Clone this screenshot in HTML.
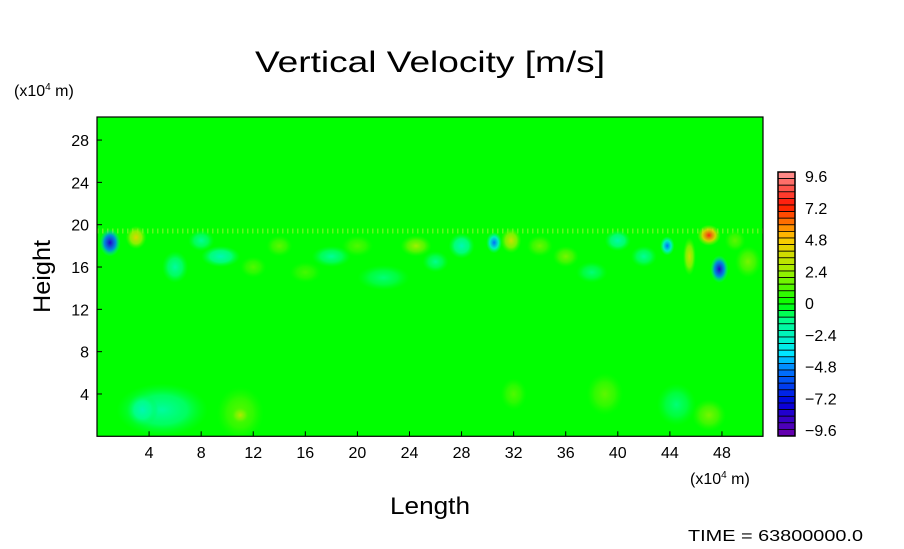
<!DOCTYPE html>
<html><head><meta charset="utf-8"><style>
body{margin:0;background:#fff;width:904px;height:544px;overflow:hidden}
svg{font-family:"Liberation Sans",sans-serif}
</style></head><body>
<svg id="chart" width="904" height="544">
<text x="255" y="72" font-size="30" textLength="350" lengthAdjust="spacingAndGlyphs">Vertical Velocity [m/s]</text>
<text x="14" y="96" font-size="16">(x10<tspan dy="-6" font-size="10">4</tspan><tspan dy="6"> m)</tspan></text>
<text x="690" y="484" font-size="16">(x10<tspan dy="-6" font-size="10">4</tspan><tspan dy="6"> m)</tspan></text>
<text x="390" y="514" font-size="24" textLength="80" lengthAdjust="spacingAndGlyphs">Length</text>
<text transform="translate(50,313) rotate(-90)" font-size="24" textLength="73" lengthAdjust="spacingAndGlyphs">Height</text>
<text x="688" y="541" font-size="16" textLength="175" lengthAdjust="spacingAndGlyphs">TIME = 63800000.0</text>
<defs id="defs"></defs>
<g id="plot"></g>
<g id="axes"></g>
<g id="cbar"></g>
</svg>
<script>
const xTicks=[4,8,12,16,20,24,28,32,36,40,44,48];
const yTicks=[4,8,12,16,20,24,28];
const cbarLabels=["9.6","7.2","4.8","2.4","0","\u22122.4","\u22124.8","\u22127.2","\u22129.6"];
const blobX=[1.0,3.0,30.5,31.8,47.0,47.8,43.8,45.5,9.5,14,18,24.5,28,36,40,50,6,5,11,11,47,39,32,22,8,12,20,26,34,42,16,38,49,3.5,44.5];
const blobY=[18.3,18.8,18.3,18.5,19.0,15.8,18.0,17.0,17.0,18,17,18,18,17,18.5,16.5,16,2.5,2.2,2.0,2.0,4,4,15,18.5,16,18,16.5,18,17,15.5,15.5,18.5,2.5,3];
const blobV=[-8,4,-5,3.5,7.5,-8,-5,3.5,-2,1.4,-1.4,2.4,-2,1.8,-1.8,1.8,-1.6,-1.6,1.4,2.8,1.8,1.4,1.2,-1.0,-1.4,1.2,1.2,-1.2,1.6,-1.4,1.0,-1.0,1.4,-2.0,-1.0];
const blobRX=[0.8,0.8,0.6,0.8,0.9,0.7,0.55,0.5,1.5,1,1.5,1.2,1,1,1,1,1,3.5,1.8,0.7,1.3,1.4,1,2,1,1,1.2,1,1,1,1.2,1.2,0.8,1.2,1.5];
const blobRY=[1.3,1.1,1.0,1.2,1.0,1.3,0.9,1.8,1,1,1,1,1.2,1,1,1.5,1.5,2.5,2.5,0.8,1.5,2,1.5,1.2,1,1,1,1,1,1,1,1,1,1.5,2];
const X0=97,X1=763,Y0=436.3,Y1=117;
const sx=v=>X0+v*13.02, sy=v=>Y0-v*10.58;
const NS="http://www.w3.org/2000/svg";
const stops=[[-9.6,[110,0,170]],[-7.2,[0,0,220]],[-4.8,[0,120,255]],[-3.6,[0,230,255]],[-1.2,[0,255,140]],[0,[0,255,0]],[2.4,[160,240,0]],[4.8,[255,200,0]],[7.2,[255,20,0]],[9.6,[255,150,150]]];
function cmap(v){v=Math.max(-9.6,Math.min(9.6,v));for(let i=0;i<stops.length-1;i++){const a=stops[i],b=stops[i+1];if(v<=b[0]){const t=(v-a[0])/(b[0]-a[0]);return 'rgb('+a[1].map((c,k)=>Math.round(c+(b[1][k]-c)*t)).join(',')+')';}}return 'rgb(255,150,150)';}
const plot=document.getElementById('plot'),defs=document.getElementById('defs'),axes=document.getElementById('axes'),cb=document.getElementById('cbar');
function mk(tag,attrs,parent){const e=document.createElementNS(NS,tag);for(const k in attrs)e.setAttribute(k,attrs[k]);parent.appendChild(e);return e;}
const bg=mk('rect',{x:X0,y:Y1,width:X1-X0,height:Y0-Y1,fill:'rgb(0,255,0)'},plot);


const clip=mk('clipPath',{id:'pc'},defs);mk('rect',{x:X0,y:Y1,width:X1-X0,height:Y0-Y1},clip);
const g=mk('g',{'clip-path':'url(#pc)'},plot);
const band=mk('line',{x1:X0,x2:X1,y1:sy(19.4),y2:sy(19.4),stroke:'rgb(120,245,40)','stroke-width':5,'stroke-dasharray':'1.5 3.5','stroke-opacity':0.8},g);


for(let i=0;i<blobX.length;i++){
  const gr=mk('radialGradient',{id:'g'+i},defs);
  const c=cmap(blobV[i]);
  mk('stop',{offset:'0',"stop-color":c,"stop-opacity":1},gr);
  mk('stop',{offset:'0.55',"stop-color":cmap(blobV[i]*0.6),"stop-opacity":0.85},gr);
  mk('stop',{offset:'1',"stop-color":cmap(blobV[i]*0.3),"stop-opacity":0},gr);
  const e=mk('ellipse',{cx:sx(blobX[i]),cy:sy(blobY[i]),rx:blobRX[i]*13.02,ry:blobRY[i]*10.58,fill:'url(#g'+i+')'},g);
  
  
}
mk('rect',{x:X0,y:Y1,width:X1-X0,height:Y0-Y1,fill:'none',stroke:'#000','stroke-width':1.2},axes);
xTicks.forEach(t=>{mk('line',{x1:sx(t),x2:sx(t),y1:Y0,y2:Y0-5,stroke:'#000'},axes);
 const tx=mk('text',{x:sx(t),y:458,'font-size':16,'text-anchor':'middle'},axes);tx.textContent=t;
 
 });
yTicks.forEach(t=>{mk('line',{x1:X0,x2:X0+5,y1:sy(t),y2:sy(t),stroke:'#000'},axes);
 const tx=mk('text',{x:89,y:sy(t)+6,'font-size':16,'text-anchor':'end'},axes);tx.textContent=t;
 
 });
const CB0=172,CB1=436,N=40,bh=(CB1-CB0)/N;
for(let i=0;i<N;i++){const v=9.6-(i+0.5)*19.2/N;
 const r=mk('rect',{x:778,y:CB0+i*bh,width:17,height:bh,fill:cmap(v),stroke:'#000','stroke-width':0.8},cb);
 
 }
mk('rect',{x:778,y:CB0,width:17,height:CB1-CB0,fill:'none',stroke:'#000','stroke-width':1.5},cb);
cbarLabels.forEach((l,i)=>{const y=176+i*(430-176)/8;
 const tx=mk('text',{x:805,y:y+6,'font-size':16},cb);tx.textContent=l;
 
 });
</script>
</body></html>
